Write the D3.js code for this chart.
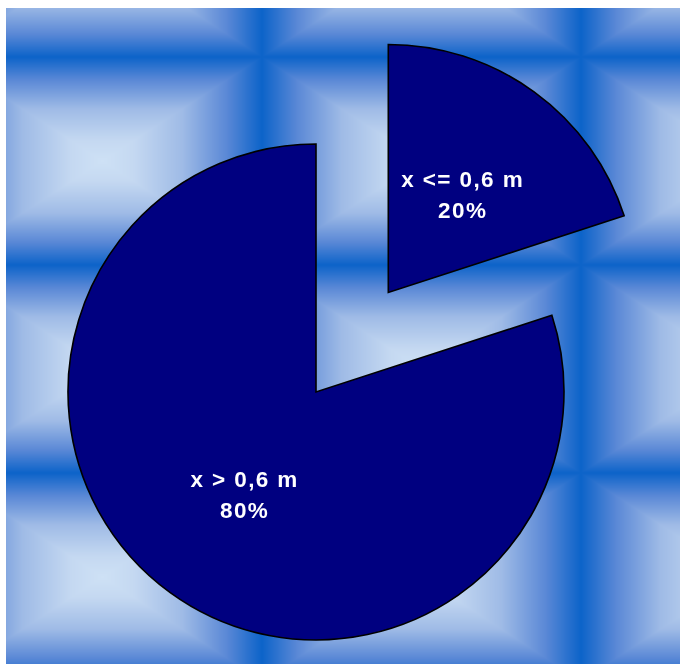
<!DOCTYPE html>
<html>
<head>
<meta charset="utf-8">
<script src="https://cdn.jsdelivr.net/npm/d3@7"></script>
<style>
  html, body { margin: 0; padding: 0; background: #ffffff; }
  #wrap { position: relative; width: 680px; height: 664px; }
  #bg, #chart { position: absolute; left: 0; top: 0; display: block; }
</style>
</head>
<body>
<div id="wrap">
  <canvas id="bg" width="680" height="664"></canvas>
  <svg id="chart" width="680" height="664"></svg>
</div>
<script>
// Share of x values on either side of 0,6 m
const categories = ["x <= 0,6 m", "x > 0,6 m"];
const shares = [20, 80];
const percentLabels = ["20%", "80%"];

const width = 680, height = 664;

// Tiled background: rectangular gradient tiles, light centre fading to dark blue edges
const area = { x: 6, y: 8, w: width - 6, h: height - 8 };
const tileW = 319, tileH = 208, tileX0 = 262, tileY0 = 57;
const gradStops = [
  [0.00, "#0c63c9"],
  [0.22, "#5a88d6"],
  [0.50, "#9fbbe6"],
  [0.80, "#c4d8f1"],
  [1.00, "#cee1f5"]
];
const shade = d3.scaleLinear()
  .domain(gradStops.map(s => s[0]))
  .range(gradStops.map(s => s[1]))
  .interpolate(d3.interpolateRgb)
  .clamp(true);

(function paintBackground() {
  const ctx = document.getElementById("bg").getContext("2d");
  const img = ctx.createImageData(area.w, area.h);
  const lut = d3.range(0, 1001).map(i => d3.rgb(shade(i / 1000)));
  const hw = tileW / 2, hh = tileH / 2;
  for (let py = 0; py < area.h; py++) {
    const y = area.y + py + 0.5;
    const ty = ((y - tileY0) % tileH + tileH) % tileH;
    const dy = Math.abs(ty - hh) / hh;
    for (let px = 0; px < area.w; px++) {
      const x = area.x + px + 0.5;
      const tx = ((x - tileX0) % tileW + tileW) % tileW;
      const dx = Math.abs(tx - hw) / hw;
      const t = 1 - Math.max(dx, dy);
      const c = lut[Math.round(t * 1000)];
      const k = (py * area.w + px) * 4;
      img.data[k] = c.r; img.data[k + 1] = c.g; img.data[k + 2] = c.b; img.data[k + 3] = 255;
    }
  }
  ctx.putImageData(img, area.x, area.y);
})();

const svg = d3.select("#chart");

// Pie
const cx = 316, cy = 392, radius = 248, explode = 123;
const pie = d3.pie().sort(null).value(d => d)(shares);
const arc = d3.arc().innerRadius(0).outerRadius(radius);
const explodedIndex = 0;

const slices = svg.append("g")
  .attr("transform", `translate(${cx},${cy})`)
  .selectAll("g.slice")
  .data(pie)
  .join("g")
  .attr("class", "slice")
  .attr("transform", (d, i) => {
    if (i !== explodedIndex) return null;
    const a = (d.startAngle + d.endAngle) / 2;
    return `translate(${explode * Math.sin(a)},${-explode * Math.cos(a)})`;
  });

slices.append("path")
  .attr("d", arc)
  .attr("fill", "#000080")
  .attr("stroke", "#000000")
  .attr("stroke-width", 1.6)
  .attr("stroke-linejoin", "miter");

const labels = slices.append("text")
  .attr("transform", d => {
    const [x, y] = arc.centroid(d);
    return `translate(${x + 1.5},${y})`;
  })
  .attr("text-anchor", "middle")
  .attr("fill", "#ffffff")
  .attr("font-family", "Liberation Sans, Arial, sans-serif")
  .attr("font-weight", "bold")
  .attr("font-size", 22.5)
  .attr("letter-spacing", 1.4);

labels.append("tspan")
  .attr("x", 0).attr("y", -5.5)
  .text((d, i) => categories[i]);
labels.append("tspan")
  .attr("x", 0).attr("y", 26)
  .text((d, i) => percentLabels[i]);
</script>
</body>
</html>
